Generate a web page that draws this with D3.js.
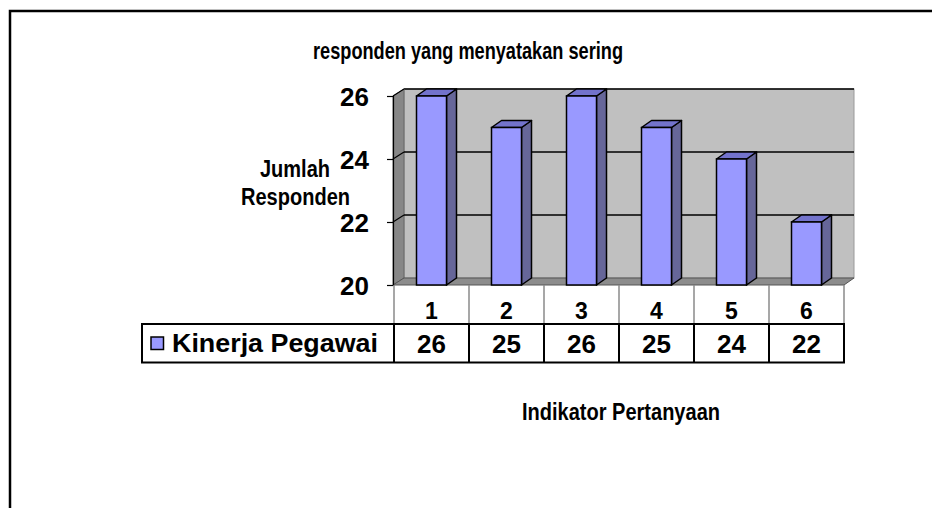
<!DOCTYPE html>
<html lang="id">
<head>
<meta charset="UTF-8">
<title>Kinerja Pegawai</title>
<style>
  body { margin: 0; background: #fff; }
  text { font-family: "Liberation Sans", Arial, sans-serif; font-weight: bold; fill: #000; }
  .narrow { font-family: "Liberation Sans Narrow", "Arial Narrow", "Liberation Sans", sans-serif; }
</style>
</head>
<body>
<script src="https://d3js.org/d3.v7.min.js"></script>
<script>
  const categories = ["1", "2", "3", "4", "5", "6"];
  const values = [26, 25, 26, 25, 24, 22];
  const yTicks = [20, 22, 24, 26];
  const seriesName = "Kinerja Pegawai";

  const w = 932, h = 508;
  const dx = 11, dy = -7;           // depth offset of the 3d look
  const floorY = 285, topY = 96;

  const svg = d3.select("body").append("svg")
    .attr("width", w).attr("height", h);

  // outer frame
  svg.append("path").attr("d", "M10,520 L10,11 L940,11")
    .attr("fill", "none").attr("stroke", "#000").attr("stroke-width", 2.5);

  const x = d3.scaleBand().domain(categories).range([394, 844])
    .paddingInner(0.6).paddingOuter(0.3);
  const y = d3.scaleLinear().domain([20, 26]).range([floorY, topY]);
  const x0 = 394, x1 = 844;

  // back wall
  svg.append("rect")
    .attr("x", x0 + dx - 1).attr("y", y(26) + dy)
    .attr("width", x1 - x0).attr("height", floorY - y(26))
    .attr("fill", "#c0c0c0").attr("stroke", "#9a9a9a").attr("stroke-width", 1);
  svg.append("line")
    .attr("x1", x0 + dx - 1).attr("x2", x1 + dx - 1)
    .attr("y1", y(26) + dy).attr("y2", y(26) + dy)
    .attr("stroke", "#000").attr("stroke-width", 1.5);

  // side wall
  svg.append("polygon")
    .attr("points", [[x0 - 1, y(26)], [x0 + dx - 1, y(26) + dy], [x0 + dx - 1, floorY + dy], [x0 - 1, floorY]].join(" "))
    .attr("fill", "#878787").attr("stroke", "#666").attr("stroke-width", 1);

  // floor
  svg.append("polygon")
    .attr("points", [[x0 - 1, floorY], [x0 + dx - 1, floorY + dy], [x1 + dx - 1, floorY + dy], [x1, floorY]].join(" "))
    .attr("fill", "#8c8c8c").attr("stroke", "#555").attr("stroke-width", 1);

  // gridlines
  yTicks.filter(v => v > 20 && v < 26).forEach(v => {
    svg.append("line")
      .attr("x1", x0 + dx - 1).attr("x2", x1 + dx - 1)
      .attr("y1", y(v) + dy).attr("y2", y(v) + dy)
      .attr("stroke", "#000").attr("stroke-width", 1.5);
  });
  yTicks.filter(v => v > 20).forEach(v => {
    svg.append("line")
      .attr("x1", x0 - 1).attr("x2", x0 + dx - 1)
      .attr("y1", y(v)).attr("y2", y(v) + dy)
      .attr("stroke", "#000").attr("stroke-width", 1.2);
  });

  // bars
  const bw = x.bandwidth();
  const bars = svg.append("g").selectAll("g").data(values).enter().append("g");
  bars.append("polygon")
    .attr("points", (d, i) => {
      const bx = x(categories[i]) + bw, t = y(d);
      return [[bx, t], [bx + dx - 1, t + dy], [bx + dx - 1, floorY + dy], [bx, floorY]].join(" ");
    })
    .attr("fill", "#666699").attr("stroke", "#000").attr("stroke-width", 1.5).attr("stroke-linejoin", "round");
  bars.append("polygon")
    .attr("points", (d, i) => {
      const bx = x(categories[i]), t = y(d);
      return [[bx, t], [bx + dx - 1, t + dy], [bx + bw + dx - 1, t + dy], [bx + bw, t]].join(" ");
    })
    .attr("fill", "#7373cc").attr("stroke", "#000").attr("stroke-width", 1.5).attr("stroke-linejoin", "round");
  bars.append("rect")
    .attr("x", (d, i) => x(categories[i]))
    .attr("y", d => y(d))
    .attr("width", bw)
    .attr("height", d => floorY - y(d))
    .attr("fill", "#9999ff").attr("stroke", "#000").attr("stroke-width", 1.5);

  // y axis
  const yAxis = svg.append("g").attr("transform", `translate(${x0 - 1},0)`)
    .call(d3.axisLeft(y).tickValues(yTicks).tickSize(6).tickFormat(d3.format("d")));
  yAxis.select(".domain").attr("stroke", "#000").attr("stroke-width", 1.2);
  yAxis.selectAll(".tick line").attr("stroke", "#000").attr("stroke-width", 1.2);
  yAxis.selectAll(".tick text")
    .attr("x", -24).attr("dy", "0.37em")
    .style("font-family", "'Liberation Sans', Arial, sans-serif")
    .style("font-weight", "bold").style("font-size", "26px");

  // data table
  const rowTop = floorY, rowMid = 324, rowBot = 362.5, tableLeft = 142;
  const edges = categories.map(c => x(c) - x.step() * x.paddingOuter()).concat([x1]);
  edges.forEach(e => {
    svg.append("line").attr("x1", e).attr("x2", e).attr("y1", rowTop).attr("y2", rowMid)
      .attr("stroke", "#8a8a8a").attr("stroke-width", 1.5);
    svg.append("line").attr("x1", e).attr("x2", e).attr("y1", rowMid).attr("y2", rowBot)
      .attr("stroke", "#000").attr("stroke-width", 2);
  });
  svg.append("line").attr("x1", tableLeft).attr("x2", tableLeft).attr("y1", rowMid).attr("y2", rowBot)
    .attr("stroke", "#000").attr("stroke-width", 2);
  [rowMid, rowBot].forEach(r => {
    svg.append("line").attr("x1", tableLeft - 1).attr("x2", x1 + 1).attr("y1", r).attr("y2", r)
      .attr("stroke", "#000").attr("stroke-width", 2);
  });

  const mid = c => x(c) + bw / 2;
  svg.append("g").selectAll("text").data(categories).enter().append("text")
    .attr("x", d => mid(d)).attr("y", 318.5)
    .attr("text-anchor", "middle").style("font-size", "23px")
    .text(d => d);
  svg.append("g").selectAll("text").data(values).enter().append("text")
    .attr("x", (d, i) => mid(categories[i])).attr("y", 353)
    .attr("text-anchor", "middle").style("font-size", "26px")
    .text(d => d);

  // legend key
  svg.append("rect").attr("x", 151).attr("y", 337).attr("width", 12.5).attr("height", 12.5)
    .attr("fill", "#9999ff").attr("stroke", "#000").attr("stroke-width", 1.5);
  svg.append("text").attr("x", 172).attr("y", 352)
    .style("font-size", "26px").attr("textLength", 206).attr("lengthAdjust", "spacingAndGlyphs")
    .text(seriesName);

  // titles
  svg.append("text").attr("class", "narrow").attr("x", 313).attr("y", 58.5)
    .style("font-size", "24px").attr("textLength", 310).attr("lengthAdjust", "spacingAndGlyphs")
    .text("responden yang menyatakan sering");
  svg.append("text").attr("class", "narrow").attr("x", 260).attr("y", 177)
    .style("font-size", "23px").attr("textLength", 70).attr("lengthAdjust", "spacingAndGlyphs")
    .text("Jumlah");
  svg.append("text").attr("class", "narrow").attr("x", 241).attr("y", 205)
    .style("font-size", "23px").attr("textLength", 109).attr("lengthAdjust", "spacingAndGlyphs")
    .text("Responden");
  svg.append("text").attr("class", "narrow").attr("x", 522).attr("y", 420)
    .style("font-size", "23px").attr("textLength", 198).attr("lengthAdjust", "spacingAndGlyphs")
    .text("Indikator Pertanyaan");
</script>
</body>
</html>
